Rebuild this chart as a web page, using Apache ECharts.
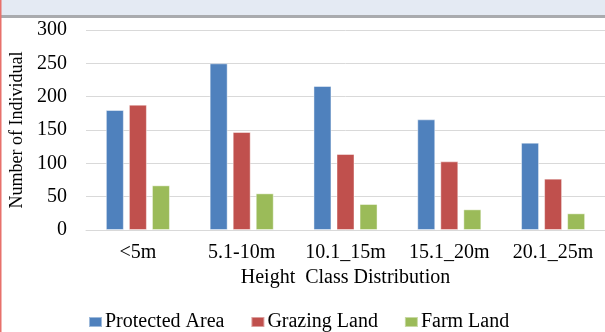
<!DOCTYPE html>
<html>
<head>
<meta charset="utf-8">
<script src="https://cdn.jsdelivr.net/npm/echarts@6/dist/echarts.min.js"></script>
<style>
  html, body { margin: 0; padding: 0; background: #ffffff; }
  #chart { width: 605px; height: 332px; }
</style>
</head>
<body>
<div id="chart"></div>
<script>
// Height classes and counts of individuals per land-use type
const categories = ['<5m', '5.1-10m', '10.1_15m', '15.1_20m', '20.1_25m'];
const protectedArea = [180, 250, 216, 166, 131];
const grazingLand = [188, 147, 114, 103, 77];
const farmLand = [67, 55, 39, 31, 25];
const seriesNames = ['Protected Area', 'Grazing Land', 'Farm Land'];
const yTicks = { min: 0, max: 300, interval: 50 };

const serif = 'Liberation Serif';
const colors = ['#4f81bd', '#c0504d', '#9bbb59'];

const chart = echarts.init(document.getElementById('chart'), null, { renderer: 'canvas' });

function barSeries(name, data, color) {
  return {
    name: name,
    type: 'bar',
    data: data,
    barWidth: 18,
    barGap: '28%',
    itemStyle: { color: color, borderColor: 'rgba(255,255,255,0.45)', borderWidth: 1 },
    emphasis: { disabled: true }
  };
}

chart.setOption({
  animation: false,
  backgroundColor: '#ffffff',
  color: colors,
  textStyle: { fontFamily: serif },
  graphic: [
    { type: 'rect', left: 0, top: 0, shape: { width: 605, height: 15 }, style: { fill: '#e4eaf3' }, silent: true },
    { type: 'rect', left: 0, top: 15, shape: { width: 605, height: 3 }, style: { fill: '#a9abae' }, silent: true },
    { type: 'rect', left: 0, top: 0, shape: { width: 1.5, height: 332 }, style: { fill: '#e8716b' }, silent: true, z: 100 }
  ],
  grid: { left: 86, top: 30, width: 525, height: 200, containLabel: false },
  legend: {
    data: seriesNames,
    left: 83,
    top: 307,
    itemWidth: 13,
    itemHeight: 10,
    itemGap: 26,
    icon: 'rect',
    textStyle: { fontFamily: serif, fontSize: 20, color: '#000000', padding: [0, 0, 0, -2] }
  },
  xAxis: {
    type: 'category',
    data: categories,
    name: 'Height  Class Distribution',
    nameLocation: 'middle',
    nameGap: 34,
    nameTextStyle: { fontFamily: serif, fontSize: 20, color: '#000000' },
    axisLine: { show: true, lineStyle: { color: '#d9d9d9', width: 1 } },
    axisTick: { show: false },
    axisLabel: { fontFamily: serif, fontSize: 20, color: '#000000', margin: 13, interval: 0, hideOverlap: false }
  },
  yAxis: {
    type: 'value',
    min: yTicks.min,
    max: yTicks.max,
    interval: yTicks.interval,
    name: 'Number of Individual',
    nameLocation: 'middle',
    nameRotate: 90,
    nameGap: 57,
    nameTextStyle: { fontFamily: serif, fontSize: 18, color: '#000000' },
    axisLine: { show: false },
    axisTick: { show: false },
    splitLine: { lineStyle: { color: '#d9d9d9', width: 1 } },
    axisLabel: { fontFamily: serif, fontSize: 20, color: '#000000', margin: 19 }
  },
  series: [
    barSeries(seriesNames[0], protectedArea, colors[0]),
    barSeries(seriesNames[1], grazingLand, colors[1]),
    barSeries(seriesNames[2], farmLand, colors[2])
  ]
});
</script>
</body>
</html>
